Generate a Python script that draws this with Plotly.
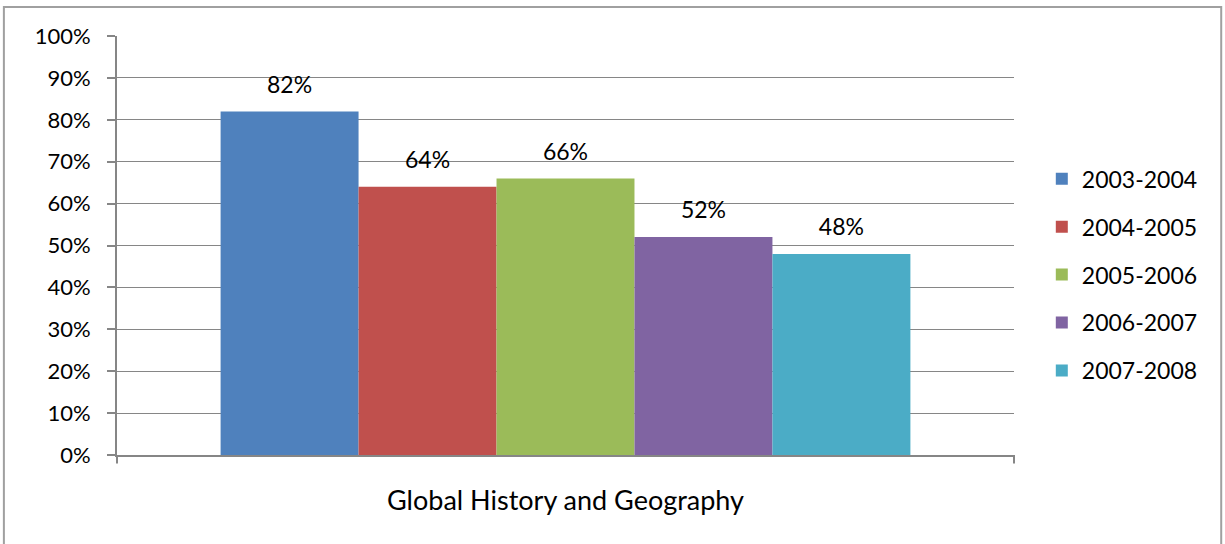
import plotly.graph_objects as go

categories = ["Global History and Geography"]
series_names = ["2003-2004", "2004-2005", "2005-2006", "2006-2007", "2007-2008"]
series_values = [[0.82], [0.64], [0.66], [0.52], [0.48]]
colors = ["#4F81BD", "#C0504D", "#9BBB59", "#8064A2", "#4BACC6"]
y_ticks = [0, 0.1, 0.2, 0.3, 0.4, 0.5, 0.6, 0.7, 0.8, 0.9, 1.0]

FONT = "Lato, Carlito, 'Open Sans', sans-serif"
GRAY = "#868686"
GAP = 0.231

fig = go.Figure()
for i, (name, vals) in enumerate(zip(series_names, series_values)):
    fig.add_trace(go.Bar(
        x=categories, y=vals, name=name,
        marker=dict(color=colors[i], line=dict(width=0)),
        offsetgroup=str(i), alignmentgroup="g",
        legendgroup=name,
    ))
for i, (name, vals) in enumerate(zip(series_names, series_values)):
    fig.add_trace(go.Scatter(
        x=categories, y=vals, mode="markers+text",
        text=[f"{v:.0%}" for v in vals],
        textposition="top center",
        textfont=dict(size=23, color="black", family=FONT),
        marker=dict(size=19, color="rgba(0,0,0,0)"),
        offsetgroup=str(i), alignmentgroup="g",
        showlegend=False, cliponaxis=False, hoverinfo="skip",
    ))

fig.update_layout(
    width=1225, height=544,
    margin=dict(l=117, r=211, t=36, b=89),
    paper_bgcolor="white", plot_bgcolor="white",
    barmode="group", bargap=GAP, bargroupgap=0,
    scattermode="group", scattergap=GAP,
    font=dict(family=FONT, size=22, color="black"),
    showlegend=True,
    legend=dict(x=1.031, xanchor="left", y=0.43, yanchor="middle",
                font=dict(size=23, family=FONT), tracegroupgap=15,
                itemwidth=30, bgcolor="rgba(0,0,0,0)"),
    xaxis=dict(showline=True, linecolor=GRAY, linewidth=2, ticks="",
               tickfont=dict(size=27), ticklabelstandoff=21, showgrid=False),
    yaxis=dict(range=[0, 1], tickvals=y_ticks, tickformat=".0%",
               showgrid=True, gridcolor=GRAY, gridwidth=1,
               showline=True, linecolor=GRAY, linewidth=2,
               ticks="outside", ticklen=8, tickcolor=GRAY, tickwidth=2,
               tickfont=dict(size=22), ticklabelstandoff=12, zeroline=False),
    shapes=[
        dict(type="rect", xref="paper", yref="paper",
             x0=-0.1261, x1=1.231, y0=-0.3, y1=1.069,
             line=dict(color="#A0A0A0", width=2), layer="below"),
        dict(type="line", xref="x domain", yref="y domain",
             x0=0, x1=0, y0=0, y1=-0.02, line=dict(color=GRAY, width=2)),
        dict(type="line", xref="x domain", yref="y domain",
             x0=1, x1=1, y0=0, y1=-0.02, line=dict(color=GRAY, width=2)),
    ],
)

fig.write_html("out.html", config={"displayModeBar": False},
               post_script="document.body.style.margin='0';")
